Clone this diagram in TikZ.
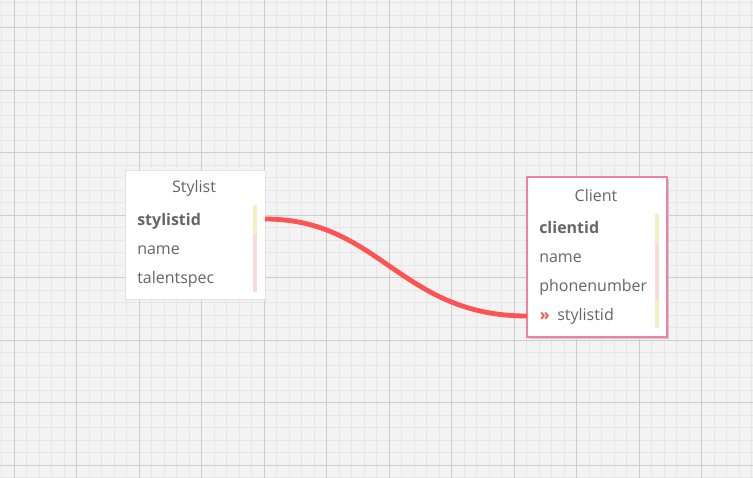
\documentclass[tikz,border=0pt]{standalone}
\usepackage{fontspec}
\setmainfont{Open Sans}
\usetikzlibrary{positioning}
\definecolor{bggray}{HTML}{F3F3F3}
\definecolor{minorline}{HTML}{E6E6E6}
\definecolor{majorline}{HTML}{CDCDCD}
\definecolor{txtgray}{HTML}{666666}
\definecolor{linkred}{HTML}{FF5252}
\definecolor{keyyellow}{HTML}{F3F1C4}
\definecolor{fieldpink}{HTML}{FDD9D9}
\definecolor{clientpink}{HTML}{F27FA6}
\definecolor{boxedge}{HTML}{E2E2E2}
\tikzset{
  title/.style={text=txtgray,font=\fontsize{12}{14}\selectfont,anchor=base},
  field/.style={text=txtgray,font=\fontsize{12}{14}\selectfont,anchor=base west,inner sep=0pt},
  keyfield/.style={field,font=\fontsize{12}{14}\selectfont\bfseries},
  link/.style={linkred,line width=3.6pt},
}
\begin{document}
\begin{tikzpicture}[x=0.75pt,y=-0.75pt]
\fill[bggray] (0,0) rectangle (753,478);
\useasboundingbox (0,0) rectangle (753,478);
% grid
\foreach \x in {1.5,14,...,753} \draw[minorline,line width=0.75pt] (\x,0)--(\x,478);
\foreach \y in {2.7,15.2,...,478} \draw[minorline,line width=0.75pt] (0,\y)--(753,\y);
\foreach \x in {14.3,76.8,...,753} \draw[majorline,line width=0.9pt] (\x,0)--(\x,478);
\foreach \y in {27.7,90.2,...,478} \draw[majorline,line width=0.9pt] (0,\y)--(753,\y);

% Stylist table
\fill[black!12] (126,171) rectangle (266,300);
\draw[boxedge,fill=white] (125,170) rectangle (265,299);
\node[title] (stylisttitle) at (194,192) {Stylist};
\fill[keyyellow] (253,205) rectangle (257,234);
\fill[fieldpink] (253,234) rectangle (257,292);
\node[keyfield] (sid) at (137,225) {stylistid};
\node[field] (sname) at (137,254) {name};
\node[field] (stalent) at (137,283) {talentspec};
\coordinate (sout) at (265,219);

% Client table
\draw[black!20,line width=0.75pt] (668.4,179)--(668.4,338.4)--(529,338.4);
\draw[clientpink,fill=white,line width=0.8pt] (527,177) rectangle (667,337);
\node[title] (clienttitle) at (596,201) {Client};
\fill[keyyellow] (655,214) rectangle (659,243);
\fill[fieldpink] (655,243) rectangle (659,299);
\fill[keyyellow] (655,299) rectangle (659,328);
\node[keyfield] (cid) at (539,233) {clientid};
\node[field] (cname) at (539,262) {name};
\node[field] (cphone) at (539,291) {phonenumber};
\node[field,text=linkred,font=\fontsize{12}{14}\selectfont\bfseries] (fkmark) at (539.5,320) {»};
\node[field] (csid) at (557,320) {stylistid};
\coordinate (cin) at (527,316);

% relation
\draw[link] (sout) .. controls (380,219) and (400,316) .. (cin);
\end{tikzpicture}
\end{document}
